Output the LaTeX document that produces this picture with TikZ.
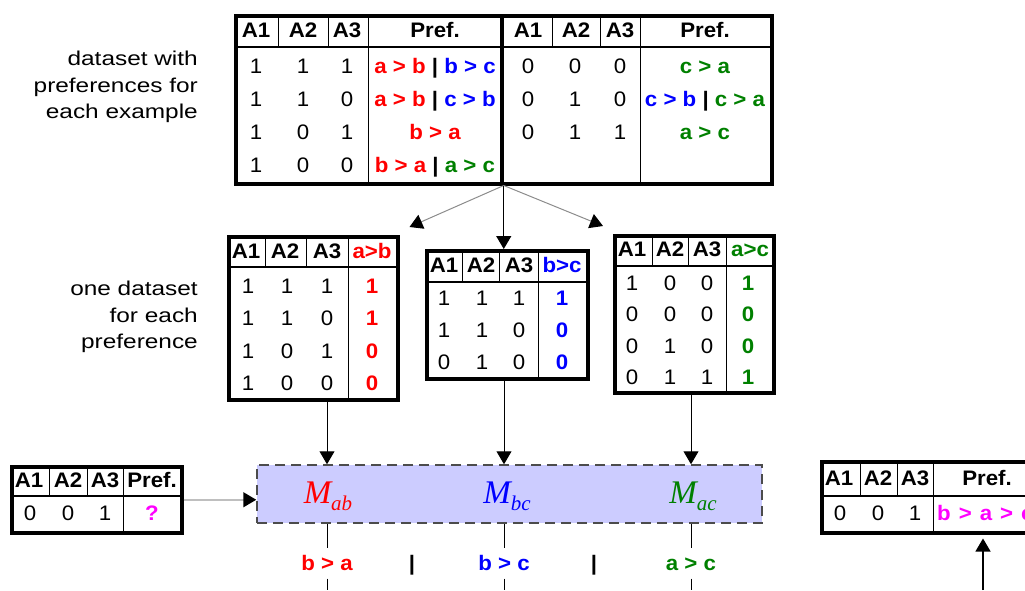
\documentclass[tikz,border=0pt]{standalone}
\usepackage{fontspec}
\setmainfont[FakeStretch=1.06]{Liberation Sans}
\newfontfamily\labelfont[FakeStretch=1.22]{Liberation Sans}
\newfontfamily\timesfont{Liberation Serif}
\usetikzlibrary{arrows.meta}
\definecolor{prefgreen}{RGB}{0,128,0}
\definecolor{prefmagenta}{RGB}{255,0,255}
\definecolor{modelfill}{RGB}{204,204,255}

\begin{document}
\begin{tikzpicture}[x=1pt,y=-1pt,>={Triangle[length=13pt,width=15pt,color=black]},
  tblframe/.style={draw,line width=3.5pt,anchor=north west,inner sep=0pt},
  thinrule/.style={line width=1pt},
  headrule/.style={line width=1.6pt},
  cell/.style={font=\fontsize{21}{25}\selectfont,inner sep=0pt,text height=15pt,text depth=0pt},
  head/.style={cell,font=\fontsize{21}{25}\selectfont\bfseries},
  sidetext/.style={anchor=east,align=right,inner sep=0pt,font=\labelfont\fontsize{20}{26.5}\selectfont},
  modelbox/.style={draw=black!70,line width=1.5pt,dash pattern=on 10pt off 6pt,fill=modelfill,minimum width=505pt,minimum height=58pt,inner sep=0pt},
  mlabel/.style={anchor=base,inner sep=0pt,font=\timesfont\itshape\fontsize{33}{33}\selectfont},
  outtext/.style={head,outer ysep=8pt}]

  \useasboundingbox (0,0) rectangle (1025,590);

  % side texts
  \node[sidetext] (toplabel) at (198,87) {dataset with\\preferences for\\each example};
  \node[sidetext] (midlabel) at (198,317) {one dataset\\for each\\preference};

  % dataset with preferences
  \node[tblframe,minimum width=536pt,minimum height=168pt] (data) at (234,14) {};
  \draw[headrule] (234,47) -- (770,47);
  \draw[thinrule] (278,14) -- (278,47) (328,14) -- (328,47) (552,14) -- (552,47) (600,14) -- (600,47);
  \draw[thinrule] (368,14) -- (368,182) (640,14) -- (640,182);
  \draw[line width=3.5pt] (502,14) -- (502,182);
  \foreach \x/\t [count=\i] in {256/A1,303/A2,347/A3,435/Pref.,528/A1,576/A2,620/A3,705/Pref.}
    \node[head] (data-h\i) at (\x,30) {\t};
  \foreach \y/\a/\b/\c [count=\i] in {66/1/1/1,99/1/1/0,132/1/0/1,165/1/0/0} {
    \node[cell] (data-l\i-1) at (256,\y) {\a};
    \node[cell] (data-l\i-2) at (303,\y) {\b};
    \node[cell] (data-l\i-3) at (347,\y) {\c};
  }
  \foreach \y/\a/\b/\c [count=\i] in {66/0/0/0,99/0/1/0,132/0/1/1} {
    \node[cell] (data-r\i-1) at (528,\y) {\a};
    \node[cell] (data-r\i-2) at (575,\y) {\b};
    \node[cell] (data-r\i-3) at (620,\y) {\c};
  }
  \node[head] (data-l1-4) at (435,66) {\textcolor{red}{a > b} | \textcolor{blue}{b > c}};
  \node[head] (data-l2-4) at (435,99) {\textcolor{red}{a > b} | \textcolor{blue}{c > b}};
  \node[head,red] (data-l3-4) at (435,132) {b > a};
  \node[head] (data-l4-4) at (435,165) {\textcolor{red}{b > a} | \textcolor{prefgreen}{a > c}};
  \node[head,prefgreen] (data-r1-4) at (705,66) {c > a};
  \node[head] (data-r2-4) at (705,99) {\textcolor{blue}{c > b} | \textcolor{prefgreen}{c > a}};
  \node[head,prefgreen] (data-r3-4) at (705,132) {a > c};

  % a>b
  \node[tblframe,minimum width=169pt,minimum height=163pt] (ab) at (227,235) {};
  \draw[headrule] (227,267) -- (396,267);
  \draw[thinrule] (265,235) -- (265,267) (306,235) -- (306,267) (348,235) -- (348,398);
  \foreach \x/\t [count=\i] in {246/A1,285/A2,327/A3}
    \node[head] (ab-h\i) at (\x,251) {\t};
  \node[head,red] (ab-h4) at (372,251) {a>b};
  \foreach \y/\a/\b/\c/\v [count=\i] in {286/1/1/1/1,318/1/1/0/1,351/1/0/1/0,383/1/0/0/0} {
    \node[cell] (ab-\i-1) at (248,\y) {\a};
    \node[cell] (ab-\i-2) at (287,\y) {\b};
    \node[cell] (ab-\i-3) at (327,\y) {\c};
    \node[head,red] (ab-\i-4) at (372,\y) {\v};
  }

  % b>c
  \node[tblframe,minimum width=161pt,minimum height=128pt] (bc) at (425,249) {};
  \draw[headrule] (425,282) -- (586,282);
  \draw[thinrule] (462,249) -- (462,282) (499,249) -- (499,282) (538,249) -- (538,377);
  \foreach \x/\t [count=\i] in {444/A1,481/A2,519/A3}
    \node[head] (bc-h\i) at (\x,265) {\t};
  \node[head,blue] (bc-h4) at (562,265) {b>c};
  \foreach \y/\a/\b/\c/\v [count=\i] in {298/1/1/1/1,330/1/1/0/0,362/0/1/0/0} {
    \node[cell] (bc-\i-1) at (444,\y) {\a};
    \node[cell] (bc-\i-2) at (482,\y) {\b};
    \node[cell] (bc-\i-3) at (519,\y) {\c};
    \node[head,blue] (bc-\i-4) at (562,\y) {\v};
  }

  % a>c
  \node[tblframe,minimum width=159pt,minimum height=157pt] (ac) at (613,234) {};
  \draw[headrule] (613,266) -- (772,266);
  \draw[thinrule] (652,234) -- (652,266) (688,234) -- (688,266) (726,234) -- (726,391);
  \foreach \x/\t [count=\i] in {632/A1,670/A2,707/A3}
    \node[head] (ac-h\i) at (\x,249) {\t};
  \node[head,prefgreen] (ac-h4) at (750,249) {a>c};
  \foreach \y/\a/\b/\c/\v [count=\i] in {283/1/0/0/1,314/0/0/0/0,346/0/1/0/0,377/0/1/1/1} {
    \node[cell] (ac-\i-1) at (632,\y) {\a};
    \node[cell] (ac-\i-2) at (670,\y) {\b};
    \node[cell] (ac-\i-3) at (707,\y) {\c};
    \node[head,prefgreen] (ac-\i-4) at (748,\y) {\v};
  }

  % query
  \node[tblframe,minimum width=170pt,minimum height=66pt] (query) at (10,465) {};
  \draw[headrule] (10,496) -- (180,496);
  \draw[thinrule] (49,465) -- (49,496) (87,465) -- (87,496) (123,465) -- (123,531);
  \foreach \x/\t [count=\i] in {29/A1,68/A2,105/A3,152/Pref.}
    \node[head] (query-h\i) at (\x,480) {\t};
  \node[cell] (query-1) at (30,513) {0};
  \node[cell] (query-2) at (68,513) {0};
  \node[cell] (query-3) at (105,513) {1};
  \node[head,prefmagenta] (query-4) at (152,513) {?};

  % result
  \node[tblframe,minimum width=225pt,minimum height=71pt] (res) at (820,460) {};
  \draw[headrule] (820,496) -- (1045,496);
  \draw[thinrule] (860,460) -- (860,496) (897,460) -- (897,496) (933,460) -- (933,531);
  \foreach \x/\t [count=\i] in {839/A1,878/A2,915/A3,987/Pref.}
    \node[head] (res-h\i) at (\x,478) {\t};
  \node[cell] (res-1) at (840,513) {0};
  \node[cell] (res-2) at (878,513) {0};
  \node[cell] (res-3) at (915,513) {1};
  \node[head,prefmagenta,anchor=west,text height=15pt] (res-4) at (937,513) {\spaceskip=8pt b > a > c};

  % models
  \node[modelbox] (models) at (509.5,494) {};
  \node[mlabel,red] (mab) at (328,503) {M\raisebox{-7pt}{\fontsize{21}{21}\selectfont ab}};
  \node[mlabel,blue] (mbc) at (507,503) {M\raisebox{-7pt}{\fontsize{21}{21}\selectfont bc}};
  \node[mlabel,prefgreen] (mac) at (693,503) {M\raisebox{-7pt}{\fontsize{21}{21}\selectfont ac}};

  % outputs
  \node[outtext,red] (oab) at (327,563) {b > a};
  \node[outtext,blue] (obc) at (504,563) {b > c};
  \node[outtext,prefgreen] (oac) at (691,563) {a > c};
  \node[head] (sep1) at (412,563) {|};
  \node[head] (sep2) at (594,563) {|};
  \coordinate (eab) at (327,590);
  \coordinate (ebc) at (504,590);
  \coordinate (eac) at (691,590);
  \coordinate (eres) at (983,590);

  % arrows
  \draw[->,black!45,line width=1pt] (data.south) -- ([xshift=10pt,yshift=8pt]ab.north east);
  \draw[->,black!45,line width=1pt] (data.south) -- ([xshift=-10pt,yshift=8pt]ac.north west);
  \draw[->,line width=1.2pt] (data.south) -- (data.south |- bc.north);
  \draw[->,line width=1pt] (ab.south -| oab) -- (models.north -| oab);
  \draw[->,line width=1pt] (bc.south -| obc) -- (models.north -| obc);
  \draw[->,line width=1pt] (ac.south -| oac) -- (models.north -| oac);
  \draw[->,black!25,line width=1.5pt] (query.east) -- (query.east -| models.west);
  \draw[line width=1pt] (models.south -| oab) -- (oab.north) (oab.south) -- (eab);
  \draw[line width=1pt] (models.south -| obc) -- (obc.north) (obc.south) -- (ebc);
  \draw[line width=1pt] (models.south -| oac) -- (oac.north) (oac.south) -- (eac);
  \draw[->,line width=1.2pt,shorten >=4pt] (eres) -- (eres |- res.south);

\end{tikzpicture}
\end{document}
